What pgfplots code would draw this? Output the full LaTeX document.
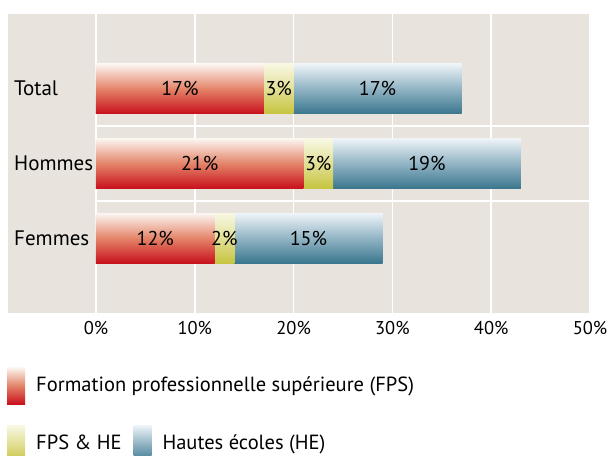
\documentclass[border=0pt]{standalone}
\usepackage{pgfplots}
\pgfplotsset{compat=1.18}
\usepackage{fontspec}
\setmainfont{PT Sans}
\definecolor{bg}{RGB}{232,228,221}
\definecolor{redt}{RGB}{252,246,242}
\definecolor{redm}{RGB}{228,132,105}
\definecolor{redb}{RGB}{200,16,28}
\definecolor{yelt}{RGB}{248,248,228}
\definecolor{yelm}{RGB}{226,224,150}
\definecolor{yelb}{RGB}{198,196,62}
\definecolor{blut}{RGB}{238,244,248}
\definecolor{blum}{RGB}{145,180,196}
\definecolor{blub}{RGB}{58,118,142}
\tikzset{
  redbar/.style={draw=none, top color=redt, bottom color=redb, middle color=redm},
  yelbar/.style={draw=none, top color=yelt, bottom color=yelb, middle color=yelm},
  blubar/.style={draw=none, top color=blut, bottom color=blub, middle color=blum},
}
\begin{document}
\fontsize{18.5}{22}\selectfont
\begin{tikzpicture}
\useasboundingbox (-8pt,-142pt) rectangle (601pt,313pt);
\begin{axis}[
  at={(0,0)}, anchor=south west,
  scale only axis, width=582pt, height=299pt,
  xmin=-8.9, xmax=50, ymin=0, ymax=4,
  axis background/.style={fill=bg},
  axis line style={draw=none},
  major tick length=0pt,
  xtick={0,10,20,30,40,50},
  xticklabels={0\%,10\%,20\%,30\%,40\%,50\%},
  xticklabel style={yshift=-2pt, font=\fontsize{18.5}{22}\selectfont},
  xmajorgrids, grid style={white, line width=1.5pt},
  ytick={1,2,3}, yticklabels={Femmes,Hommes,Total},
  yticklabel style={anchor=west, inner sep=0pt, xshift=6pt, font=\fontsize{21}{24}\selectfont},
  bars/.style={xbar, bar width=0.67, bar shift=0pt, forget plot},
  legend columns=2,
  legend style={at={(0,0)}, anchor=north west, yshift=-54pt, xshift=-1pt,
     draw=none, fill=none, inner sep=0pt, row sep=21pt,
     /tikz/every odd column/.append style={column sep=9pt},
     /tikz/every even column/.append style={column sep=10pt},
     font=\fontsize{20.5}{24}\selectfont, cells={anchor=west}},
  legend image code/.code={\path[#1] (0pt,-18.5pt) rectangle (18pt,18.5pt);},
]
% Total: FPS 17, FPS&HE 3, HE 17 (drawn as overlapping cumulative bars)
\addplot[bars, blubar] coordinates {(37,3)};
\addplot[bars, yelbar] coordinates {(20,3)};
\addplot[bars, redbar] coordinates {(17,3)};
% Hommes: 21, 3, 19
\addplot[bars, blubar] coordinates {(43,2)};
\addplot[bars, yelbar] coordinates {(24,2)};
\addplot[bars, redbar] coordinates {(21,2)};
% Femmes: 12, 2, 15
\addplot[bars, blubar] coordinates {(29,1)};
\addplot[bars, yelbar] coordinates {(14,1)};
\addplot[bars, redbar] coordinates {(12,1)};
% segment labels at segment centres
\addplot[only marks, mark=none, forget plot, nodes near coords, point meta=explicit symbolic,
  every node near coord/.style={anchor=center, text=black, font=\fontsize{20}{24}\selectfont}]
  coordinates {(8.5,3) [17\%] (18.5,3) [3\%] (28.5,3) [17\%]
               (10.5,2) [21\%] (22.5,2) [3\%] (33.5,2) [19\%]
               (6,1) [12\%] (13,1) [2\%] (21.5,1) [15\%]};
\addlegendimage{redbar}
\addlegendentry{\makebox[0pt][l]{Formation professionnelle supérieure (FPS)}}
\addlegendimage{empty legend}
\addlegendentry{}
\addlegendimage{yelbar}
\addlegendentry{FPS \& HE}
\addlegendimage{blubar}
\addlegendentry{Hautes écoles (HE)}
\draw[white, line width=1.5pt] (axis cs:0,1.5) -- (axis cs:50,1.5);
\draw[white, line width=1.5pt] (axis cs:0,2.5) -- (axis cs:50,2.5);
\end{axis}
\end{tikzpicture}
\end{document}
